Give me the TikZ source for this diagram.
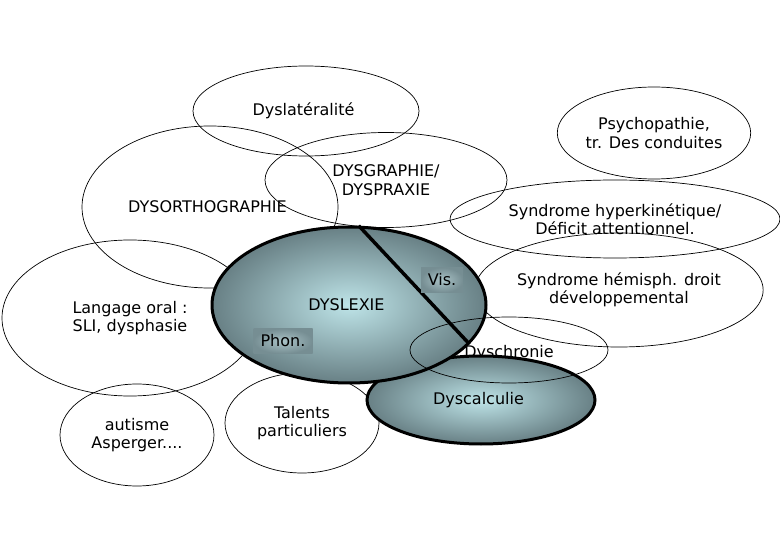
\documentclass[tikz,border=0pt]{standalone}
\usepackage{fontspec}
\setmainfont{DejaVu Sans}
\usetikzlibrary{shapes.geometric}

\definecolor{bulleclair}{RGB}{190,228,232}
\definecolor{bullefonce}{RGB}{104,128,133}
\definecolor{boiteclair}{RGB}{170,195,199}
\definecolor{boitefonce}{RGB}{118,142,147}

\begin{document}
\begin{tikzpicture}[
    x=1pt,
    y=-1pt,
    every node/.style={
        font=\fontsize{16}{18.5}\selectfont,
        align=center,
        inner sep=0pt
    },
    trouble/.style={
        ellipse,
        draw=black,
        line width=0.7pt
    },
    dysbulle/.style={
        ellipse,
        draw=black,
        line width=3pt,
        inner color=bulleclair,
        outer color=bullefonce
    },
    souscat/.style={
        rectangle,
        inner color=boiteclair,
        outer color=boitefonce,
        minimum width=42pt,
        minimum height=25pt
    },
    coupure/.style={
        line width=3.5pt,
        black
    }
]

\useasboundingbox (0,0) rectangle (780,540);

% troubles associes
\node[trouble, minimum width=226pt, minimum height=90pt] (lateralite) at (306,111) {
    Dyslatéralité
};

\node[trouble, minimum width=256pt, minimum height=162pt] (orthographie) at (210,207) {
    DYSORTHOGRAPHIE
};

\node[trouble, minimum width=242pt, minimum height=95pt] (graphie) at (386,180) {
    DYSGRAPHIE/\\
    DYSPRAXIE
};

\node[trouble, minimum width=154pt, minimum height=92pt] (psychopathie) at (654,133) {
    Psychopathie,\\
    tr. Des conduites
};

\node[trouble, minimum width=330pt, minimum height=78pt] (hyperkinetique) at (615,219) {
    Syndrome hyperkinétique/\\
    Déficit attentionnel.
};

\node[trouble, minimum width=288pt, minimum height=114pt] (hemisphere) at (619,290) {
    Syndrome hémisph. droit\\
    développemental
};

\node[trouble, minimum width=256pt, minimum height=156pt] (langage) at (130,318) {
    Langage oral :\\
    SLI, dysphasie
};

\node[trouble, minimum width=154pt, minimum height=102pt] (autisme) at (137,435) {
    autisme\\
    Asperger....
};

\node[trouble, minimum width=154pt, minimum height=100pt] (talents) at (302,423) {
    Talents\\
    particuliers
};

\node (dyschronietexte) at (509,353) {Dyschronie};

% troubles des apprentissages
\node[dysbulle, minimum width=228pt, minimum height=88pt] (dyscalculie) at (481,400) {
    Dyscalculie
};

\node[dysbulle, minimum width=274pt, minimum height=156pt] (dyslexie) at (349,305) {
    DYSLEXIE
};

\draw[coupure] (dyslexie.83) -- (dyslexie.-18);

\node[trouble, minimum width=198pt, minimum height=66pt] (dyschronie) at (509,350) {};

\node[souscat] (visuel) at (442,280) {Vis.};
\node[souscat, minimum width=59pt] (phonologique) at (283,341) {Phon.};

\end{tikzpicture}
\end{document}
